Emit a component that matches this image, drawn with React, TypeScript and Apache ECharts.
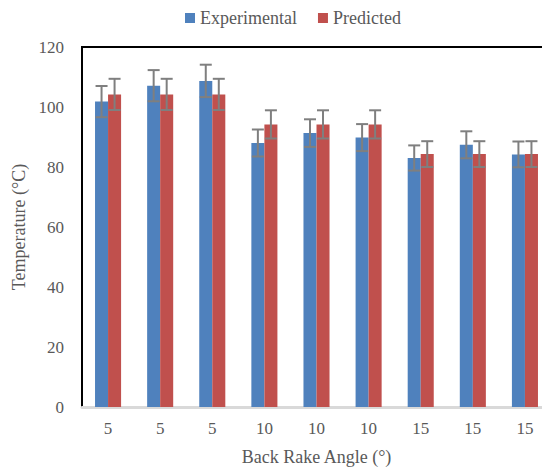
import React, { useEffect, useRef } from "react";
import * as echarts from "echarts";

const categories = ["5", "5", "5", "10", "10", "10", "15", "15", "15"];
const experimental = [101.8, 107.1, 108.7, 88.0, 91.3, 89.8, 83.0, 87.4, 84.2];
const predicted = [104.2, 104.2, 104.2, 94.2, 94.2, 94.2, 84.3, 84.3, 84.3];
const experimentalError = [5.2, 5.2, 5.4, 4.5, 4.6, 4.5, 4.2, 4.5, 4.3];
const predictedError = [5.2, 5.2, 5.2, 4.7, 4.7, 4.7, 4.3, 4.3, 4.3];
const yTicks = { min: 0, max: 120, interval: 20 };

const FONT = '"Liberation Serif", "Times New Roman", serif';
const TEXT = "#595959";

function errorSeries(name: string, values: number[], errs: number[], sign: number) {
  return {
    name,
    type: "custom",
    z: 5,
    silent: true,
    data: values.map((v, i) => [i, v, errs[i]]),
    encode: { x: 0, y: 1 },
    renderItem: (params: any, api: any) => {
      const idx = api.value(0);
      const v = api.value(1);
      const e = api.value(2);
      const band = api.size([1, 0])[0];
      const off = sign * band * 0.125;
      const hi = api.coord([idx, v + e]);
      const lo = api.coord([idx, v - e]);
      const x = hi[0] + off;
      const cap = 6;
      const style = { stroke: "#7f7f7f", lineWidth: 2 };
      return {
        type: "group",
        children: [
          { type: "line", shape: { x1: x, y1: hi[1], x2: x, y2: lo[1] }, style },
          { type: "line", shape: { x1: x - cap, y1: hi[1], x2: x + cap, y2: hi[1] }, style },
          { type: "line", shape: { x1: x - cap, y1: lo[1], x2: x + cap, y2: lo[1] }, style },
        ],
      };
    },
  };
}

export default function App() {
  const ref = useRef<HTMLDivElement>(null);
  useEffect(() => {
    document.body.style.margin = "0";
    const chart = echarts.init(ref.current!, undefined, { renderer: "svg" });
    chart.setOption({
      animation: false,
      backgroundColor: "#ffffff",
      textStyle: { fontFamily: FONT },
      legend: {
        data: ["Experimental", "Predicted"],
        left: 180,
        top: 4,
        itemWidth: 10,
        itemHeight: 10,
        itemGap: 21,
        icon: "rect",
        textStyle: { fontFamily: FONT, fontSize: 18, color: TEXT },
      },
      grid: {
        left: 82,
        top: 47,
        bottom: 63,
        right: -9,
        containLabel: false,
        outerBoundsMode: "none",
        show: true,
        borderColor: "#000000",
        borderWidth: 2,
        backgroundColor: "transparent",
      },
      xAxis: {
        type: "category",
        data: categories,
        name: "Back Rake Angle (°)",
        nameLocation: "middle",
        nameGap: 41,
        nameTextStyle: { fontFamily: FONT, fontSize: 18, color: TEXT },
        axisLine: { lineStyle: { color: "#d9d9d9", width: 3 } },
        axisTick: { show: false },
        axisLabel: { fontFamily: FONT, fontSize: 17, color: TEXT, margin: 13 },
      },
      yAxis: {
        type: "value",
        min: yTicks.min,
        max: yTicks.max,
        interval: yTicks.interval,
        name: "Temperature (°C)",
        nameLocation: "middle",
        nameGap: 41,
        nameTextStyle: { fontFamily: FONT, fontSize: 18, color: TEXT },
        axisLine: { show: true, lineStyle: { color: "#000000", width: 2 } },
        axisTick: { show: false },
        splitLine: { show: false },
        axisLabel: { fontFamily: FONT, fontSize: 17, color: TEXT, margin: 18 },
      },
      series: [
        {
          name: "Experimental",
          type: "bar",
          data: experimental,
          barGap: "0%",
          barCategoryGap: "50%",
          itemStyle: { color: "#4f81bd" },
        },
        {
          name: "Predicted",
          type: "bar",
          data: predicted,
          barGap: "0%",
          barCategoryGap: "50%",
          itemStyle: { color: "#c0504d" },
        },
        errorSeries("expErr", experimental, experimentalError, -1),
        errorSeries("predErr", predicted, predictedError, 1),
      ],
    });
    return () => chart.dispose();
  }, []);
  return (
    <div
      ref={ref}
      style={{ position: "absolute", left: 0, top: 0, width: 542, height: 470 }}
    />
  );
}
